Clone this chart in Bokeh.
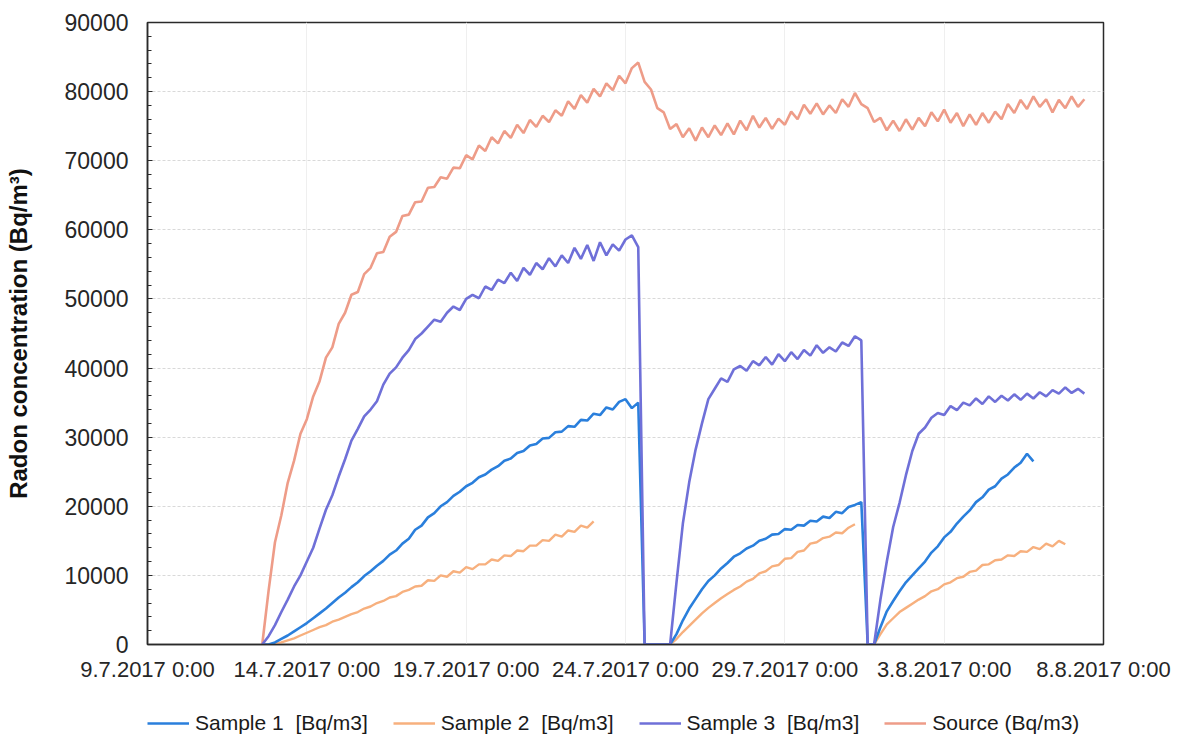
import numpy as np
import pandas as pd
from bokeh.plotting import figure
from bokeh.layouts import column
from bokeh.models import (Range1d, FixedTicker, Legend, LegendItem)
from bokeh.embed import file_html
from bokeh.resources import INLINE

# ---------------- data ----------------
start_date = "2017-07-09"
step_days = 0.2

x_tick_days = [0, 5, 10, 15, 20, 25, 30]
x_tick_labels = ["9.7.2017 0:00", "14.7.2017 0:00", "19.7.2017 0:00", "24.7.2017 0:00",
                 "29.7.2017 0:00", "3.8.2017 0:00", "8.8.2017 0:00"]
y_ticks = [0, 10000, 20000, 30000, 40000, 50000, 60000, 70000, 80000, 90000]

source_start = 3.6
source_values = [
    0, 7800, 14800, 18700, 23400, 26600, 30500, 32600, 35900, 38100,
    41500, 43000, 46400, 48000, 50600, 51000, 53600, 54500, 56600, 56800,
    59000, 59700, 62000, 62200, 64000, 64100, 66100, 66200, 67600, 67400,
    69000, 68900, 70800, 70200, 72200, 71400, 73400, 72500, 74300, 73300,
    75200, 74000, 75900, 74900, 76500, 75600, 77300, 76500, 78600, 77500,
    79500, 78400, 80400, 79300, 81200, 80200, 82300, 81200, 83400, 84200,
    81400, 80300, 77600, 77000, 74600, 75300, 73400, 74700, 72900, 74800,
    73400, 75100, 73700, 75400, 73800, 75800, 74400, 76500, 74800, 76200,
    74600, 76100, 75200, 77100, 76000, 78100, 76800, 78300, 76700, 78000,
    76900, 78900, 77800, 79800, 78200, 77600, 75600, 76200, 74400, 75800,
    74300, 76000, 74500, 76200, 75000, 77000, 75700, 77400, 75500, 76900,
    75000, 76700, 75200, 76900, 75500, 77100, 76000, 78200, 76900, 78800,
    77500, 79300, 77800, 78900, 77000, 78800, 77600, 79300, 77800, 78900,
]

sample3_start = 3.6
sample3_values = [
    0, 1200, 2800, 4700, 6500, 8400, 10000, 12000, 14000, 16800,
    19500, 21600, 24300, 26800, 29500, 31200, 33000, 34000, 35200, 37600,
    39200, 40100, 41500, 42600, 44200, 45000, 46000, 47000, 46700, 48000,
    48900, 48400, 50000, 50600, 50100, 51800, 51300, 52800, 52300, 53800,
    52600, 54500, 53500, 55200, 54300, 55900, 54700, 56300, 55200, 57400,
    55800, 57800, 55500, 58200, 56300, 57900, 57000, 58600, 59200, 57500,
    0, 0, 0, 0, 0, 9000, 17500, 23500, 28200, 32000,
    35500, 37000, 38500, 38000, 39800, 40300, 39600, 41000, 40400, 41600,
    40500, 42000, 41000, 42300, 41300, 42600, 41800, 43300, 42200, 43000,
    42400, 43700, 43200, 44600, 44000, 0, 0, 6500, 12000, 17000,
    20500, 24500, 28000, 30500, 31400, 32800, 33500, 33200, 34500, 33900,
    35000, 34600, 35600, 34800, 35900, 35100, 36000, 35300, 36200, 35400,
    36300, 35600, 36500, 35900, 36800, 36300, 37200, 36400, 37000, 36300,
]

sample1_start = 3.6
sample1_values = [
    0, 0, 300, 800, 1300, 1900, 2500, 3100, 3800, 4500,
    5200, 6000, 6800, 7500, 8300, 9000, 9900, 10600, 11400, 12100,
    13000, 13600, 14600, 15300, 16600, 17200, 18400, 19000, 20000, 20600,
    21500, 22100, 22900, 23400, 24200, 24600, 25300, 25800, 26600, 26900,
    27700, 28000, 28800, 29000, 29800, 29900, 30700, 30800, 31600, 31500,
    32500, 32400, 33400, 33200, 34300, 34000, 35100, 35500, 34200, 35000,
    0, 0, 0, 0, 0, 1500, 3500, 5200, 6600, 8000,
    9200, 10000, 11000, 11800, 12700, 13200, 13900, 14300, 15000, 15300,
    15900, 16000, 16700, 16600, 17300, 17200, 17900, 17800, 18500, 18300,
    19200, 19000, 19900, 20200, 20600, 0, 0, 2500, 4800, 6300,
    7700, 9000, 10000, 11000, 12000, 13300, 14200, 15500, 16300, 17500,
    18500, 19400, 20600, 21300, 22400, 22900, 24000, 24600, 25600, 26300,
    27600, 26500,
]

sample2_seg1_start = 3.6
sample2_seg1 = [
    0, 0, 100, 300, 600, 900, 1300, 1700, 2100, 2500,
    2800, 3300, 3600, 4000, 4400, 4700, 5200, 5500, 6000, 6300,
    6800, 7000, 7600, 7900, 8400, 8500, 9300, 9200, 10000, 9800,
    10600, 10400, 11200, 10900, 11600, 11600, 12300, 12100, 12900, 12800,
    13600, 13500, 14300, 14300, 15100, 15000, 15900, 15600, 16500, 16300,
    17200, 16900, 17800,
]
sample2_seg2_start = 16.4
sample2_seg2 = [
    0, 800, 1800, 2700, 3600, 4500, 5300, 6000, 6700, 7300,
    7900, 8400, 9100, 9500, 10300, 10600, 11300, 11500, 12400, 12500,
    13400, 13600, 14600, 14800, 15400, 15600, 16200, 16100, 16900, 17400,
]
sample2_seg3_start = 22.8
sample2_seg3 = [
    0, 1500, 2900, 3800, 4700, 5300, 5900, 6500, 7000, 7700,
    8000, 8700, 9000, 9600, 9800, 10500, 10700, 11500, 11600, 12200,
    12300, 12900, 12800, 13500, 13400, 14100, 13800, 14600, 14200, 15000,
    14500,
]

names = ["Sample 1  [Bq/m3]", "Sample 2  [Bq/m3]", "Sample 3  [Bq/m3]", "Source (Bq/m3)"]
colors = ["#2a7fdc", "#f7b07e", "#6f70d8", "#ee9c88"]

# ---------------- helpers ----------------
base = pd.Timestamp(start_date)


def times(start, n):
    return base + pd.to_timedelta(start + step_days * np.arange(n), unit="D")


FONT = "Liberation Sans"

p = figure(width=1176, height=684, x_axis_type="datetime",
           output_backend="svg", toolbar_location=None,
           x_range=Range1d(base, base + pd.Timedelta(days=30)),
           y_range=Range1d(0, 90000),
           min_border_left=147, min_border_right=73,
           min_border_top=22, min_border_bottom=39)

p.outline_line_color = "#2a2a2a"
p.outline_line_width = 1.5
p.background_fill_color = "white"
p.border_fill_color = "white"

# grid
p.ygrid.grid_line_color = "#d9d9d9"
p.ygrid.grid_line_dash = "3 2"
p.ygrid.grid_line_width = 1
p.xgrid.grid_line_color = "#efefef"
p.xgrid.grid_line_width = 1

# x axis
tick_ms = [(base + pd.Timedelta(days=d)).value // 10**6 for d in x_tick_days]
p.xaxis.ticker = FixedTicker(ticks=tick_ms)
p.xaxis.major_label_overrides = {int(t): lab for t, lab in zip(tick_ms, x_tick_labels)}
p.xaxis.major_tick_line_color = None
p.xaxis.minor_tick_line_color = None
p.xaxis.axis_line_color = "#2a2a2a"
p.xaxis.axis_line_width = 1.5
p.xaxis.major_label_text_font = FONT
p.xaxis.major_label_text_font_size = "22px"
p.xaxis.major_label_text_color = "#262626"
p.xaxis.major_label_standoff = 6

# y axis
p.yaxis.ticker = FixedTicker(ticks=y_ticks,
                             minor_ticks=list(range(0, 90001, 2000)))
p.yaxis.axis_line_color = "#2a2a2a"
p.yaxis.axis_line_width = 1.5
p.yaxis.major_tick_in = 5
p.yaxis.major_tick_out = 0
p.yaxis.minor_tick_in = 4
p.yaxis.minor_tick_out = 0
p.yaxis.major_tick_line_color = "#2a2a2a"
p.yaxis.minor_tick_line_color = "#2a2a2a"
p.yaxis.major_label_text_font = FONT
p.yaxis.major_label_text_font_size = "23px"
p.yaxis.major_label_text_color = "#262626"
p.yaxis.major_label_standoff = 19
p.yaxis.axis_label = "Radon concentration (Bq/m\u00b3)"
p.yaxis.axis_label_text_font = FONT
p.yaxis.axis_label_text_font_size = "24px"
p.yaxis.axis_label_text_font_style = "bold"
p.yaxis.axis_label_text_color = "#111111"
p.yaxis.axis_label_standoff = 30

# lines (draw order: source, sample2, sample1, sample3)
p.line(times(source_start, len(source_values)), source_values,
       line_color=colors[3], line_width=2.6)
for st, seg in [(sample2_seg1_start, sample2_seg1), (sample2_seg2_start, sample2_seg2),
                (sample2_seg3_start, sample2_seg3)]:
    p.line(times(st, len(seg)), seg, line_color=colors[1], line_width=2.4)
p.line(times(sample1_start, len(sample1_values)), sample1_values,
       line_color=colors[0], line_width=2.6)
p.line(times(sample3_start, len(sample3_values)), sample3_values,
       line_color=colors[2], line_width=2.6)

# ---------------- legend strip ----------------
lg = figure(width=1176, height=54, output_backend="svg", toolbar_location=None,
            x_range=Range1d(0, 1), y_range=Range1d(0, 1),
            x_axis_location=None, y_axis_location=None, min_border=0)
lg.outline_line_color = None
lg.grid.visible = False
lg.background_fill_color = "white"
lg.border_fill_color = "white"

items = []
for nm, col in zip(names, colors):
    # off-range stub renderer: only its legend swatch is seen
    r = lg.line([-5, -4], [-5, -4], line_color=col, line_width=2.6)
    items.append(LegendItem(label=nm, renderers=[r]))

legend = Legend(items=items, orientation="horizontal", location=(0, 3),
                label_text_font=FONT, label_text_font_size="21px",
                label_text_color="#1a1a1a",
                glyph_width=42, label_standoff=6, spacing=25,
                border_line_alpha=0, background_fill_alpha=0,
                padding=0, margin=0)
lg.add_layout(legend, "center")

layout = column(p, lg, spacing=0)
open("out.html", "w").write(file_html(layout, INLINE))
